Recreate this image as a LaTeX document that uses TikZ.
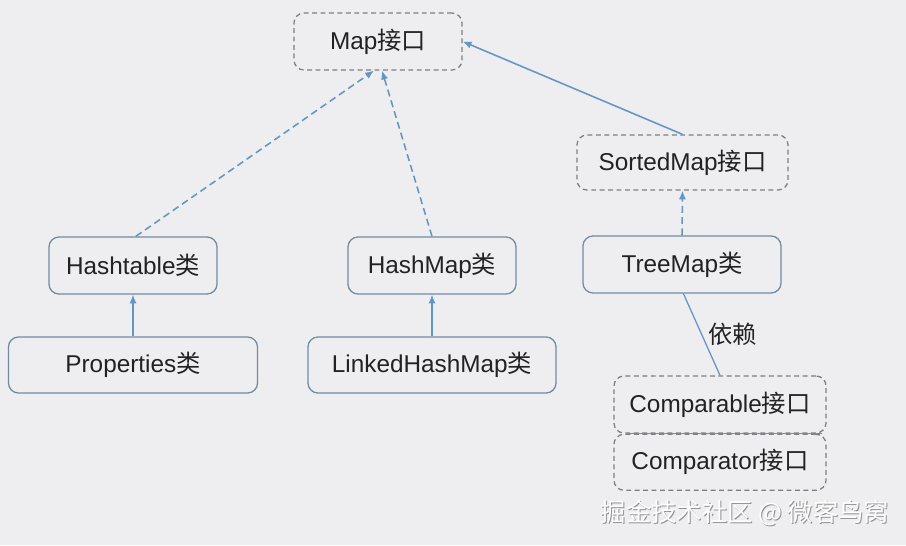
\documentclass[tikz,border=0pt]{standalone}
\usepackage{fontspec}
\setmainfont{Liberation Sans}
\newfontfamily\cjk{Noto Sans CJK SC}
\usepackage{xcolor}
\usepackage{tikz}
\usetikzlibrary{arrows.meta, positioning}

\definecolor{bgcol}{RGB}{238,237,240}
\definecolor{linecol}{RGB}{98,150,200}
\definecolor{boxcol}{RGB}{112,140,165}
\definecolor{dashcol}{RGB}{125,125,132}
\definecolor{txtcol}{RGB}{34,34,34}

\begin{document}
\begin{tikzpicture}[
      x=0.025cm, y=-0.025cm,
      font=\fontsize{17.3}{20}\selectfont, text=txtcol,
      cls/.style={draw=boxcol, line width=0.9pt, rounded corners=2.5mm,
                  minimum height=1.425cm, inner sep=0pt},
      iface/.style={draw=dashcol, line width=0.9pt, dash pattern=on 3.5pt off 2.5pt,
                    rounded corners=2.5mm, minimum height=1.425cm, inner sep=0pt},
      a/.style={-{Latex[length=2.2mm, width=1.8mm]}, linecol, line width=1.1pt},
      da/.style={a, dash pattern=on 5pt off 3pt},
    ]
    \fill[bgcol] (0,0) rectangle (906,545);
    \useasboundingbox (0,0) rectangle (906,545);

    % ---- interfaces ----
    \node[iface, minimum width=4.2cm] (map) at (378,41.5) {Map{\cjk 接口}};
    \node[iface, minimum width=5.275cm, minimum height=1.375cm] (sorted) at (682.5,162.5)
         {SortedMap{\cjk 接口}};

    % ---- classes ----
    \node[cls, minimum width=4.2cm] (htab) at (133,265.5) {Hashtable{\cjk 类}};
    \node[cls, minimum width=4.2cm] (hmap) at (432,265.5) {HashMap{\cjk 类}};
    \node[cls, minimum width=4.95cm] (tmap) at (682,264.5) {TreeMap{\cjk 类}};
    \node[cls, minimum width=6.225cm, minimum height=1.4cm] (props) at (133,365)
         {Properties{\cjk 类}};
    \node[cls, minimum width=6.2cm, minimum height=1.4cm] (lhmap) at (432,365)
         {LinkedHashMap{\cjk 类}};

    % ---- comparison interfaces ----
    \node[iface, minimum width=5.3cm] (cmpable) at (720,404.5) {Comparable{\cjk 接口}};
    \node[iface, minimum width=5.3cm, minimum height=1.4cm, below=0pt of cmpable] (cmptor)
         {Comparator{\cjk 接口}};

    % ---- arcs ----
    \draw[da] ([xshift=2pt]htab.north) -- ([xshift=-0.1cm]map.south);
    \draw[da] (hmap.north) -- ([xshift=0.1cm]map.south);
    \draw[a] (sorted.north) -- (map.east);
    \draw[da] (tmap.north) -- (sorted.south);
    \draw[a] (props.north) -- (htab.south);
    \draw[a] (lhmap.north) -- (hmap.south);
    % dependency on the comparison interfaces
    \draw[linecol, line width=0.9pt] ([xshift=1pt]tmap.south) -- (cmpable.north)
         node[pos=0.5, right=1pt, text=txtcol] {\cjk 依赖};
    \draw[linecol!80!gray, line width=1pt] ([xshift=0.35cm]cmpable.south west)
         -- ([xshift=-0.12cm]cmpable.south east);

    % watermark
    \node[text=gray!85, font=\cjk\fontsize{18}{20}\selectfont] (wmsh) at (746,514)
         {掘金技术社区 @ 微客鸟窝};
    \node[text=white, font=\cjk\fontsize{18}{20}\selectfont] (wm) at (745,513)
         {掘金技术社区 @ 微客鸟窝};
  \end{tikzpicture}
\end{document}
